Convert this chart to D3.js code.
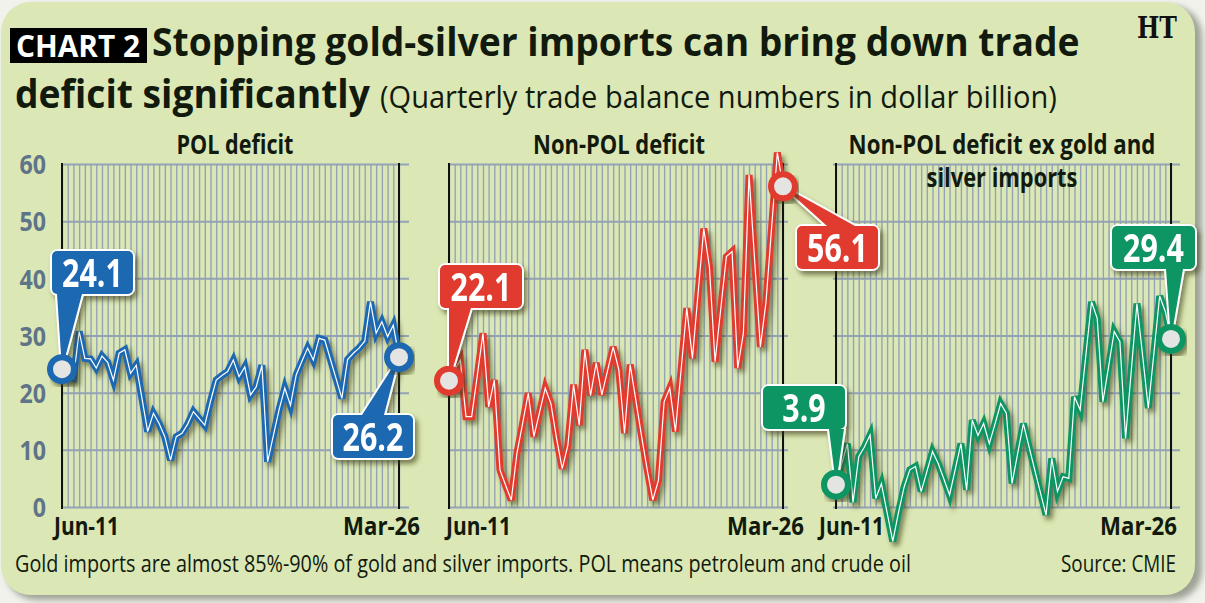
<!DOCTYPE html>
<html>
<head>
<meta charset="utf-8">
<script src="https://cdn.jsdelivr.net/npm/d3@7"></script>
<style>
  body { margin: 0; background: #f1f2ec; }
  svg { display: block; }
  text { font-family: "Open Sans", "DejaVu Sans Condensed", sans-serif; }
</style>
</head>
<body>
<div id="chart"></div>
<script>
// Quarters Jun-11 .. Mar-26
var quarters = [];
var months = ["Mar", "Jun", "Sep", "Dec"];
for (var yr = 2011; yr <= 2026; yr++) {
    months.forEach(function (m, k) {
        if ((yr == 2011 && k < 1) || (yr == 2026 && k > 0)) return;
        quarters.push(m + "-" + String(yr).slice(2));
    });
}

// Quarterly trade balance, dollar billion
var polDeficit = [24.1, 22.8, 22.5, 30.7, 26.0, 25.9, 24.3, 26.4, 25.3, 22.2,
    26.9, 27.5, 23.4, 24.8, 19.0, 13.2, 16.4, 14.6, 12.3, 8.2,
    12.3, 12.9, 14.5, 16.7, 15.5, 14.3, 18.5, 22.2, 23.0, 23.7,
    25.7, 22.8, 24.5, 19.6, 21.0, 24.8, 7.9, 12.5, 17.0, 20.8,
    17.8, 23.1, 25.5, 27.8, 25.7, 29.5, 29.2, 25.8, 22.4, 19.0,
    25.8, 26.9, 27.8, 29.0, 35.9, 30.4, 32.4, 29.8, 31.8, 26.2];

var nonPolDeficit = [22.1, 24.0, 25.7, 15.8, 15.8, 23.0, 30.4, 17.5, 22.2, 6.5,
    3.8, 1.2, 9.4, 14.6, 19.9, 12.3, 16.6, 20.8, 18.1, 12.0,
    6.7, 10.8, 21.4, 14.3, 27.5, 19.5, 25.2, 19.6, 23.8, 28.0,
    24.0, 12.9, 24.9, 18.7, 12.5, 6.6, 1.2, 4.7, 18.4, 20.8,
    13.2, 24.0, 34.8, 26.0, 37.4, 48.7, 42.0, 25.4, 34.6, 43.8,
    44.7, 24.3, 30.4, 58.1, 43.0, 28.0, 35.9, 49.0, 62.0, 56.1];

var nonPolExGold = [3.9, 7.5, 11.1, 0.8, 8.8, 10.5, 12.6, 1.5, 4.1, -1.0,
    -6.0, -1.0, 3.5, 6.5, 7.1, 2.7, 6.2, 9.7, 7.6, 4.9,
    2.1, 6.6, 11.1, 3.0, 15.2, 12.5, 14.6, 11.1, 14.5, 18.1,
    16.4, 4.1, 9.4, 14.6, 10.5, 6.5, 2.5, -1.4, 8.5, 2.7,
    5.3, 5.0, 19.3, 17.0, 26.5, 35.9, 33.0, 18.4, 24.5, 30.7,
    28.9, 12.0, 23.8, 35.6, 26.5, 17.3, 27.0, 36.9, 34.2, 29.4];

var yTicks = [0, 10, 20, 30, 40, 50, 60];
var panelTitles = [["POL deficit"], ["Non-POL deficit"], ["Non-POL deficit ex gold and", "silver imports"]];

var width = 1205, height = 603;
var ink = "#111a0d";

var svg = d3.select("#chart").append("svg")
    .attr("width", width)
    .attr("height", height);

// squeeze a text to a given width (the print font is a condensed face)
function fit(sel, w) {
    var n = sel.node().getComputedTextLength();
    var tx = +sel.attr("x"), ty = +sel.attr("y");
    sel.attr("x", 0).attr("y", 0)
        .attr("transform", "translate(" + tx + "," + ty + ") scale(" + (w / n) + ",1)");
    return sel;
}
function squeeze(sel, s) {
    var tx = +sel.attr("x"), ty = +sel.attr("y");
    sel.attr("x", 0).attr("y", 0)
        .attr("transform", "translate(" + tx + "," + ty + ") scale(" + s + ",1)");
    return sel;
}

// Shadow filter for lines and callouts
var defs = svg.append("defs");
var f = defs.append("filter").attr("id", "shadow")
    .attr("x", "-10%").attr("y", "-10%").attr("width", "125%").attr("height", "130%");
f.append("feGaussianBlur").attr("in", "SourceAlpha").attr("stdDeviation", 2.5);
f.append("feOffset").attr("dx", 3).attr("dy", 4).attr("result", "b");
f.append("feFlood").attr("flood-color", "#3a3a12").attr("flood-opacity", 0.6);
f.append("feComposite").attr("in2", "b").attr("operator", "in");
var fm = f.append("feMerge");
fm.append("feMergeNode");
fm.append("feMergeNode").attr("in", "SourceGraphic");

var cf = defs.append("filter").attr("id", "cardshadow")
    .attr("x", "-5%").attr("y", "-5%").attr("width", "110%").attr("height", "110%");
cf.append("feGaussianBlur").attr("stdDeviation", 3);

// Card
svg.append("rect").attr("x", 6).attr("y", 6).attr("width", 1196).attr("height", 594)
    .attr("rx", 30).attr("fill", "#9ea395").attr("filter", "url(#cardshadow)");
svg.append("rect").attr("x", 1).attr("y", 2).attr("width", 1194).attr("height", 593)
    .attr("rx", 30).attr("fill", "#dbe8b5");

// Title
svg.append("rect").attr("x", 10).attr("y", 28).attr("width", 137).attr("height", 35).attr("fill", "#000");
fit(svg.append("text").attr("x", 16).attr("y", 57).attr("fill", "#fff")
    .attr("font-size", 30).attr("font-weight", "bold")
    .text("CHART 2"), 124);
fit(svg.append("text").attr("x", 152).attr("y", 56).attr("fill", ink)
    .attr("font-size", 40).attr("font-weight", "bold")
    .text("Stopping gold-silver imports can bring down trade"), 928);
fit(svg.append("text").attr("x", 15).attr("y", 108).attr("fill", ink)
    .attr("font-size", 40).attr("font-weight", "bold")
    .text("deficit significantly"), 355);
fit(svg.append("text").attr("x", 380).attr("y", 108).attr("fill", ink)
    .attr("font-size", 31)
    .text("(Quarterly trade balance numbers in dollar billion)"), 677);
fit(svg.append("text").attr("x", 1137).attr("y", 38).attr("fill", "#111")
    .style("font-family", "'DejaVu Serif', serif").attr("font-size", 30).attr("font-weight", "bold")
    .text("HT"), 40);

// Footer
fit(svg.append("text").attr("x", 15).attr("y", 572).attr("fill", ink)
    .attr("font-size", 24)
    .text("Gold imports are almost 85%-90% of gold and silver imports. POL means petroleum and crude oil"), 896);
fit(svg.append("text").attr("x", 1176).attr("y", 572).attr("fill", ink)
    .attr("font-size", 24).attr("text-anchor", "end")
    .text("Source: CMIE"), 115);

var y = d3.scaleLinear().domain([0, 60]).range([507, 164]);

// Y labels (left panel only)
var yAxis = svg.append("g")
    .attr("transform", "translate(46,0)")
    .call(d3.axisLeft(y).tickValues(yTicks).tickSize(0).tickPadding(0));
yAxis.select(".domain").remove();
yAxis.selectAll("text")
    .attr("font-size", 27).attr("font-weight", "bold").attr("fill", "#5f7488")
    .attr("dy", "0.36em")
    .attr("transform", "scale(0.86,1)");

var panels = [
    { data: polDeficit, x0: 62, x1: 399, gx0: 62, gx1: 409, color: "#1f67b1", tx: 235, l0: 54, l1: 420,
      title: panelTitles[0], tw: [117],
      callouts: [
        { x: 52, y: 251, w: 81, h: 43, up: true, b0: 57, b1: 82 },
        { x: 333, y: 415, w: 80, h: 43, up: false, b0: 362, b1: 384 }] },
    { data: nonPolDeficit, x0: 449, x1: 783, gx0: 449, gx1: 788, color: "#e03a2d", tx: 619, l0: 446, l1: 804,
      title: panelTitles[1], tw: [172],
      callouts: [
        { x: 440, y: 265, w: 82, h: 43, up: true, b0: 449, b1: 471 },
        { x: 797, y: 226, w: 81, h: 43, up: false, b0: 827, b1: 855 }] },
    { data: nonPolExGold, x0: 836, x1: 1171, gx0: 833, gx1: 1180, color: "#119563", tx: 1002, l0: 819, l1: 1177,
      title: panelTitles[2], tw: [307, 151],
      callouts: [
        { x: 763, y: 386, w: 82, h: 43, up: true, b0: 829, b1: 844 },
        { x: 1112, y: 226, w: 83, h: 43, up: true, b0: 1166, b1: 1183 }] }
];

panels.forEach(function (p) {
    p.x = d3.scalePoint().domain(quarters).range([p.x0, p.x1]);
});

// Grids, frames, titles, x labels
panels.forEach(function (p) {
    var g = svg.append("g");

    var vg = g.append("g")
        .attr("transform", "translate(0," + y(0) + ")")
        .call(d3.axisBottom(p.x).tickSize(-(y(0) - y(60))).tickFormat(""));
    vg.select(".domain").remove();
    vg.selectAll("line").attr("stroke", "#94a4b6").attr("stroke-width", 1.4);

    var hg = g.append("g")
        .attr("transform", "translate(" + p.gx0 + ",0)")
        .call(d3.axisRight(y).tickValues(yTicks).tickSize(p.gx1 - p.gx0).tickFormat(""));
    hg.select(".domain").remove();
    hg.selectAll("line").attr("stroke", "#93a2b4").attr("stroke-width", 2);

    g.selectAll(".edge").data([p.x0, p.x1]).enter().append("line")
        .attr("x1", function (d) { return d; }).attr("x2", function (d) { return d; })
        .attr("y1", y(60) - 1).attr("y2", y(0) + 2)
        .attr("stroke", "#111").attr("stroke-width", 2);

    p.title.forEach(function (t, i) {
        fit(g.append("text").attr("x", p.tx).attr("y", 154 + i * 33)
            .attr("text-anchor", "middle")
            .attr("font-size", 27).attr("font-weight", "bold").attr("fill", ink)
            .text(t), p.tw[i]);
    });

    fit(g.append("text").attr("x", p.l0).attr("y", 535)
        .attr("font-size", 25).attr("font-weight", "bold").attr("fill", ink)
        .text(quarters[0]), 65);
    fit(g.append("text").attr("x", p.l1).attr("y", 535).attr("text-anchor", "end")
        .attr("font-size", 25).attr("font-weight", "bold").attr("fill", ink)
        .text(quarters[quarters.length - 1]), 77);
});

// Lines
panels.forEach(function (p) {
    var line = d3.line()
        .x(function (d, i) { return p.x(quarters[i]); })
        .y(function (d) { return y(d); });
    svg.append("path").datum(p.data)
        .attr("d", line).attr("fill", "none")
        .attr("stroke", p.color).attr("stroke-width", 7)
        .attr("stroke-linejoin", "miter").attr("stroke-miterlimit", 4)
        .attr("filter", "url(#shadow)");
    svg.append("path").datum(p.data)
        .attr("d", line).attr("fill", "none")
        .attr("stroke", "#fff").attr("stroke-width", 1.2)
        .attr("stroke-linejoin", "miter").attr("stroke-miterlimit", 4);
});

// Callouts for first and last value
panels.forEach(function (p) {
    [0, p.data.length - 1].forEach(function (idx, k) {
        var c = p.callouts[k];
        var px = p.x(quarters[idx]), py = y(p.data[idx]);
        var by = c.up ? c.y + c.h : c.y;
        var tri = [[c.b0, by], [c.b1, by], [px, py]];
        var cg = svg.append("g").attr("filter", "url(#shadow)");
        // white outline first, then fill on top
        cg.append("polygon").attr("points", tri.join(" "))
            .attr("fill", "#fff").attr("stroke", "#fff").attr("stroke-width", 4).attr("stroke-linejoin", "round");
        cg.append("rect").attr("x", c.x).attr("y", c.y).attr("width", c.w).attr("height", c.h).attr("rx", 6)
            .attr("fill", "#fff").attr("stroke", "#fff").attr("stroke-width", 4);
        cg.append("polygon").attr("points", tri.join(" ")).attr("fill", p.color);
        cg.append("rect").attr("x", c.x).attr("y", c.y).attr("width", c.w).attr("height", c.h).attr("rx", 5)
            .attr("fill", p.color);
        squeeze(cg.append("text").attr("x", c.x + c.w / 2).attr("y", c.y + c.h / 2 + 14)
            .attr("text-anchor", "middle").attr("fill", "#fff")
            .attr("font-size", 39).attr("font-weight", "bold")
            .text(d3.format(".1f")(p.data[idx])), 0.78);

        svg.append("circle").attr("cx", px).attr("cy", py).attr("r", 12)
            .attr("fill", "#e4e4e2").attr("stroke", p.color).attr("stroke-width", 6)
            .attr("filter", "url(#shadow)");
    });
});
</script>
</body>
</html>
